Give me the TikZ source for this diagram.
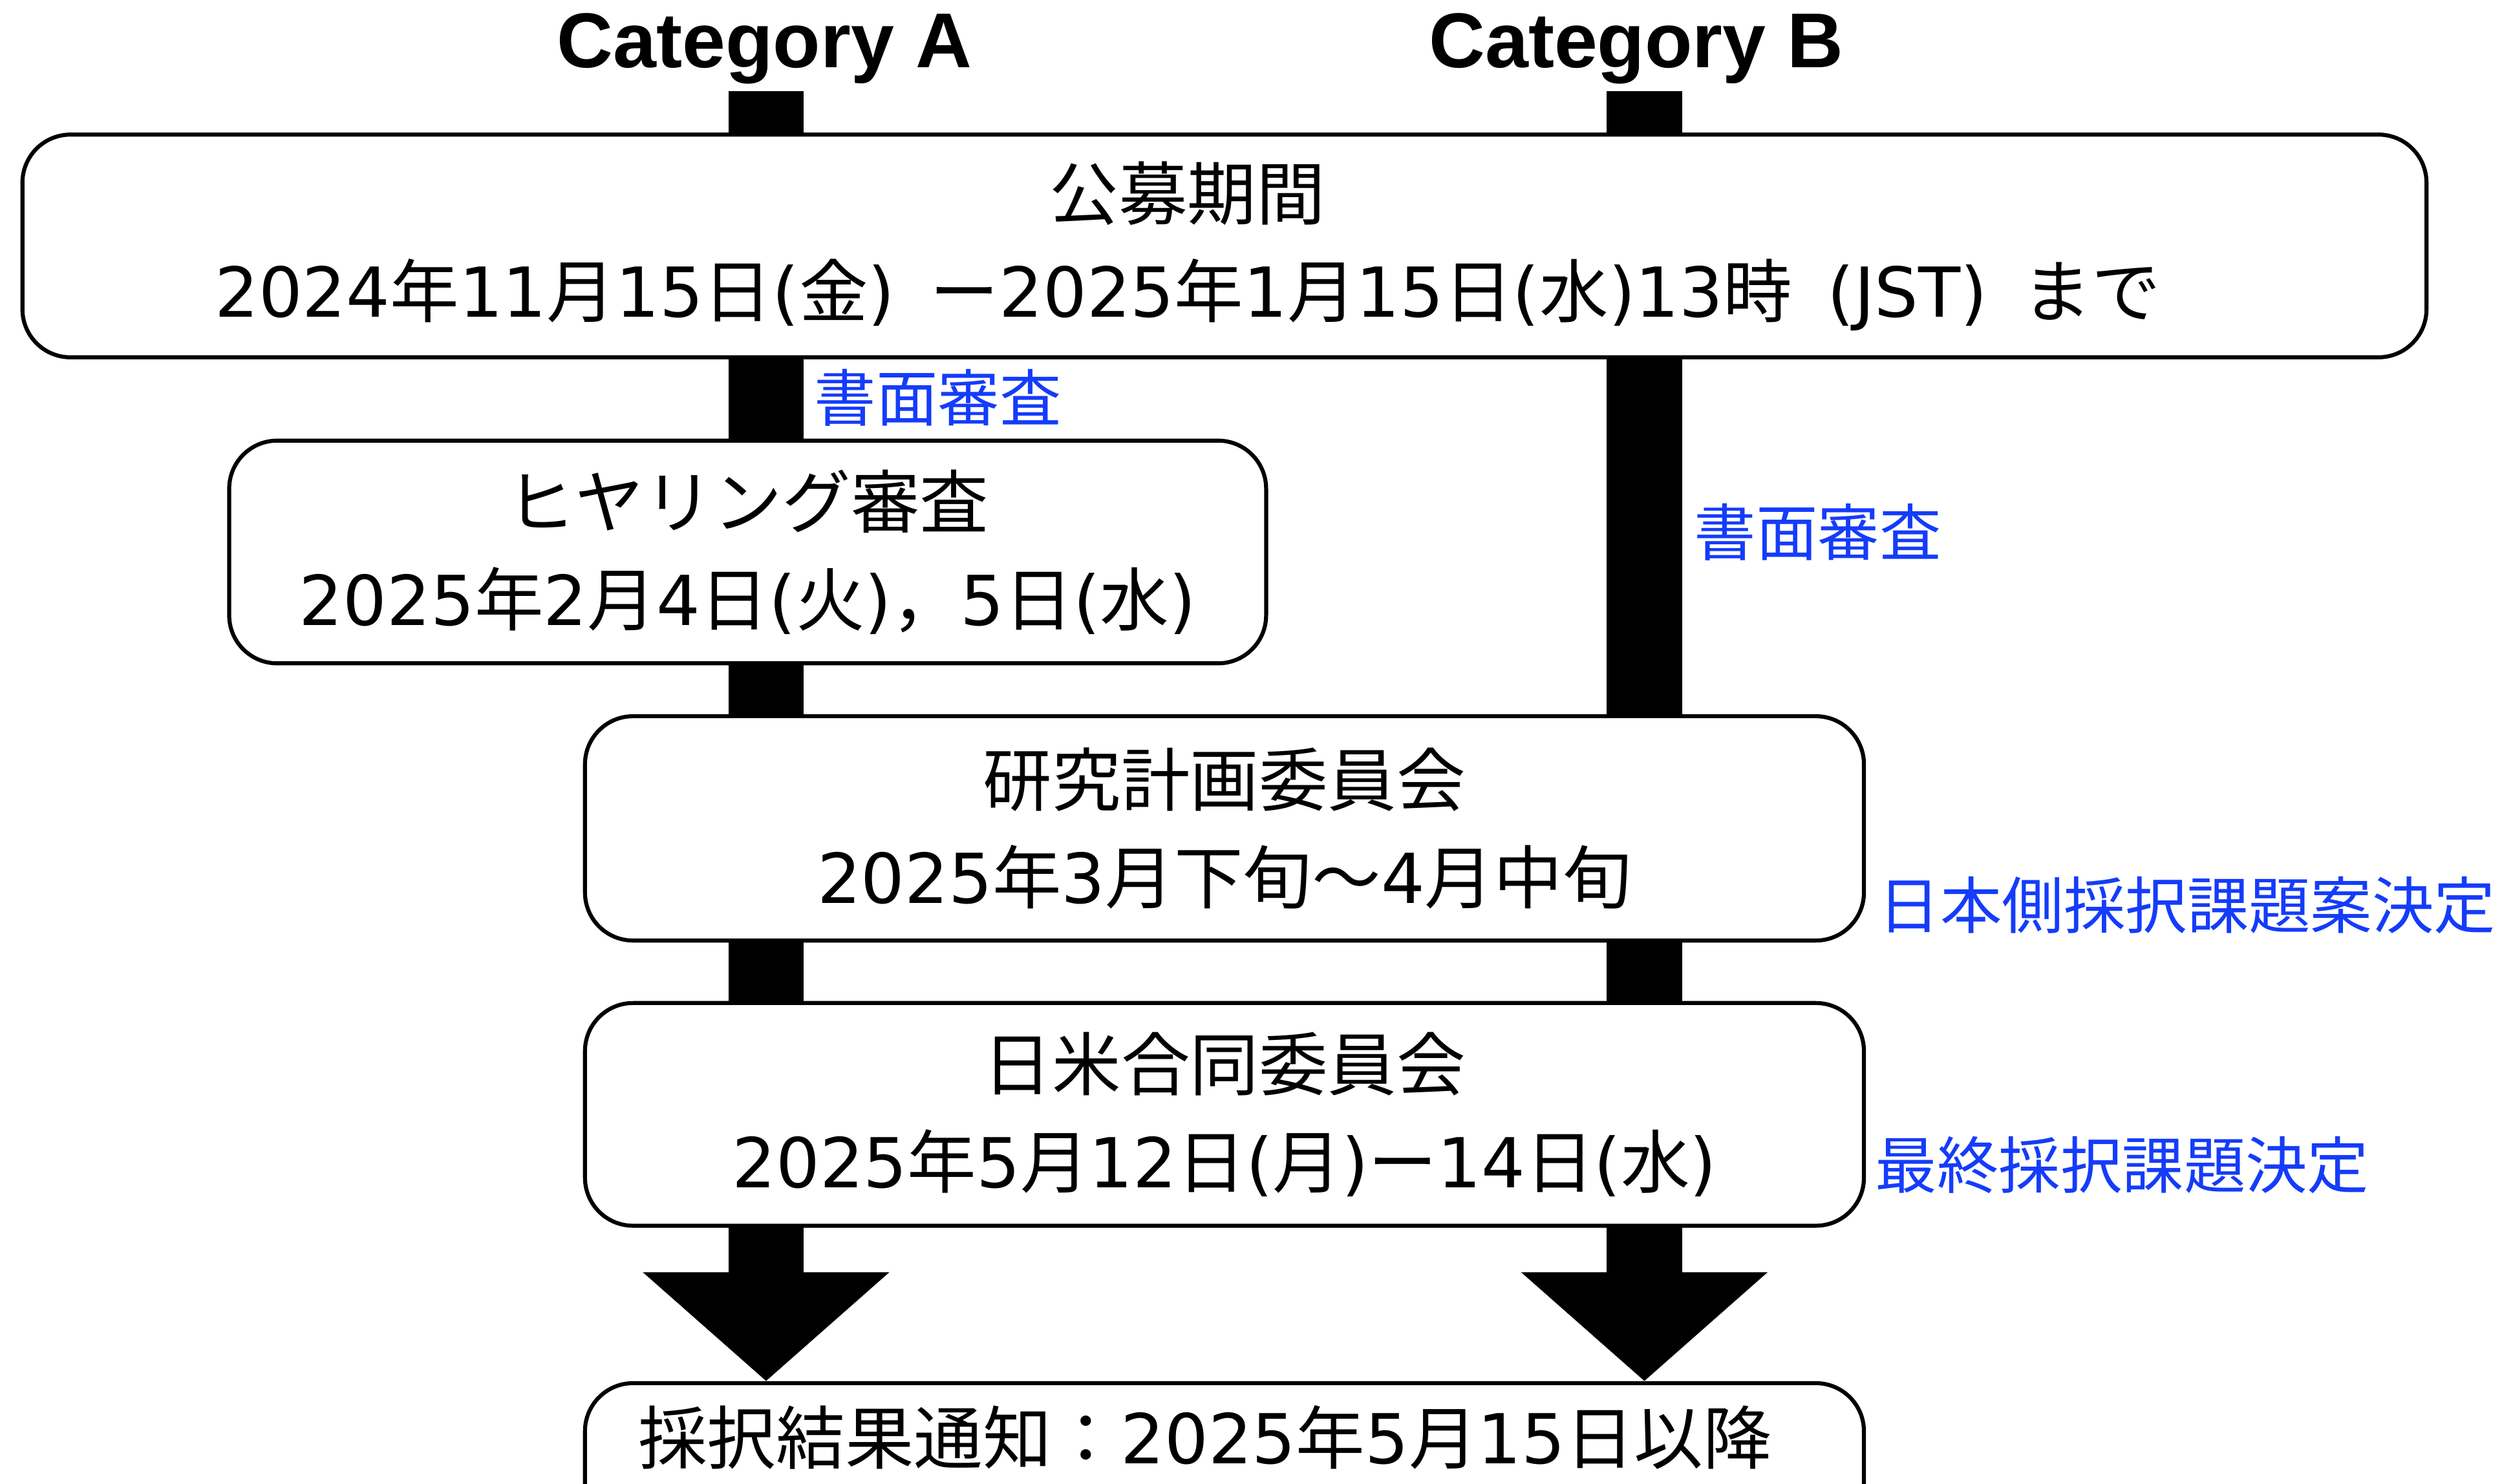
\documentclass[tikz,border=0pt]{standalone}
\usepackage{fontspec}
\setmainfont{Noto Sans CJK JP}
\newfontfamily\latfont{DejaVu Sans}
\newfontfamily\catfont{Liberation Sans}
\usetikzlibrary{arrows.meta,backgrounds}
\newcommand\lt[1]{{\latfont #1}}
\definecolor{jblue}{RGB}{20,60,250}
\begin{document}
\begin{tikzpicture}[x=1pt,y=-1pt,
  box/.style={draw, line width=2.5pt, rounded corners=30pt, fill=white, inner sep=0pt, align=center, font=\fontsize{43}{61}\selectfont},
  boxtext/.style={inner sep=0pt, align=center, font=\fontsize{43}{61}\selectfont},
  bar/.style={line width=47pt, -{Triangle[width=150pt,length=68pt]}},
  bluelab/.style={text=jblue, font=\fontsize{38.5}{38.5}\selectfont, anchor=west, inner sep=0pt},
  cat/.style={font=\catfont\bfseries\fontsize{48.5}{48.5}\selectfont, anchor=base, inner sep=0pt}]
\useasboundingbox (0,0) rectangle (1568,926);
\node[cat] (catA) at (477,42) {Category A};
\node[cat] (catB) at (1021,42) {Category B};
\coordinate (a0) at (478,57);
\coordinate (b0) at (1026,57);
\node[box, minimum width=1500pt, minimum height=139pt] (box1) at (764,153.5) {};
\node[boxtext] (t1) at (741,153.5) {公募期間\\ \lt{2024}年\lt{11}月\lt{15}日\lt{(}金\lt{)}\hspace{22pt}ー\lt{2025}年\lt{1}月\lt{15}日\lt{(}水\lt{)13}時\hspace{22pt}\lt{(JST)}\hspace{22pt}まで};
\node[box, minimum width=647pt, minimum height=139pt] (box2) at (466.5,344.5) {ヒヤリング審査\\ \lt{2025}年\lt{2}月\lt{4}日\lt{(}火\lt{)}，\lt{5}日\lt{(}水\lt{)}};
\node[box, minimum width=798pt, minimum height=140pt] (box3) at (764,517) {研究計画委員会\\ \lt{2025}年\lt{3}月下旬〜\lt{4}月中旬};
\node[box, minimum width=798pt, minimum height=139pt] (box4) at (764,695.5) {日米合同委員会\\ \lt{2025}年\lt{5}月\lt{12}日\lt{(}月\lt{)}ー\lt{14}日\lt{(}水\lt{)}};
\node[box, minimum width=798pt, minimum height=139pt, anchor=north] (box5) at (764,862) {};
\node[boxtext] (t5) at (752,897) {採択結果通知：\lt{2025}年\lt{5}月\lt{15}日以降};
\node[bluelab] (rA) at (508,248) {書面審査};
\node[bluelab] (rB) at (1057,332) {書面審査};
\node[bluelab] (r3) at (1172,565) {日本側採択課題案決定};
\node[bluelab] (r4) at (1170,727) {最終採択課題決定};
\begin{scope}[on background layer]
\fill[white] (0,0) rectangle (1568,926);
\draw[bar] (a0) -- (a0 |- box5.north);
\draw[bar] (b0) -- (b0 |- box5.north);
\end{scope}
\end{tikzpicture}
\end{document}
